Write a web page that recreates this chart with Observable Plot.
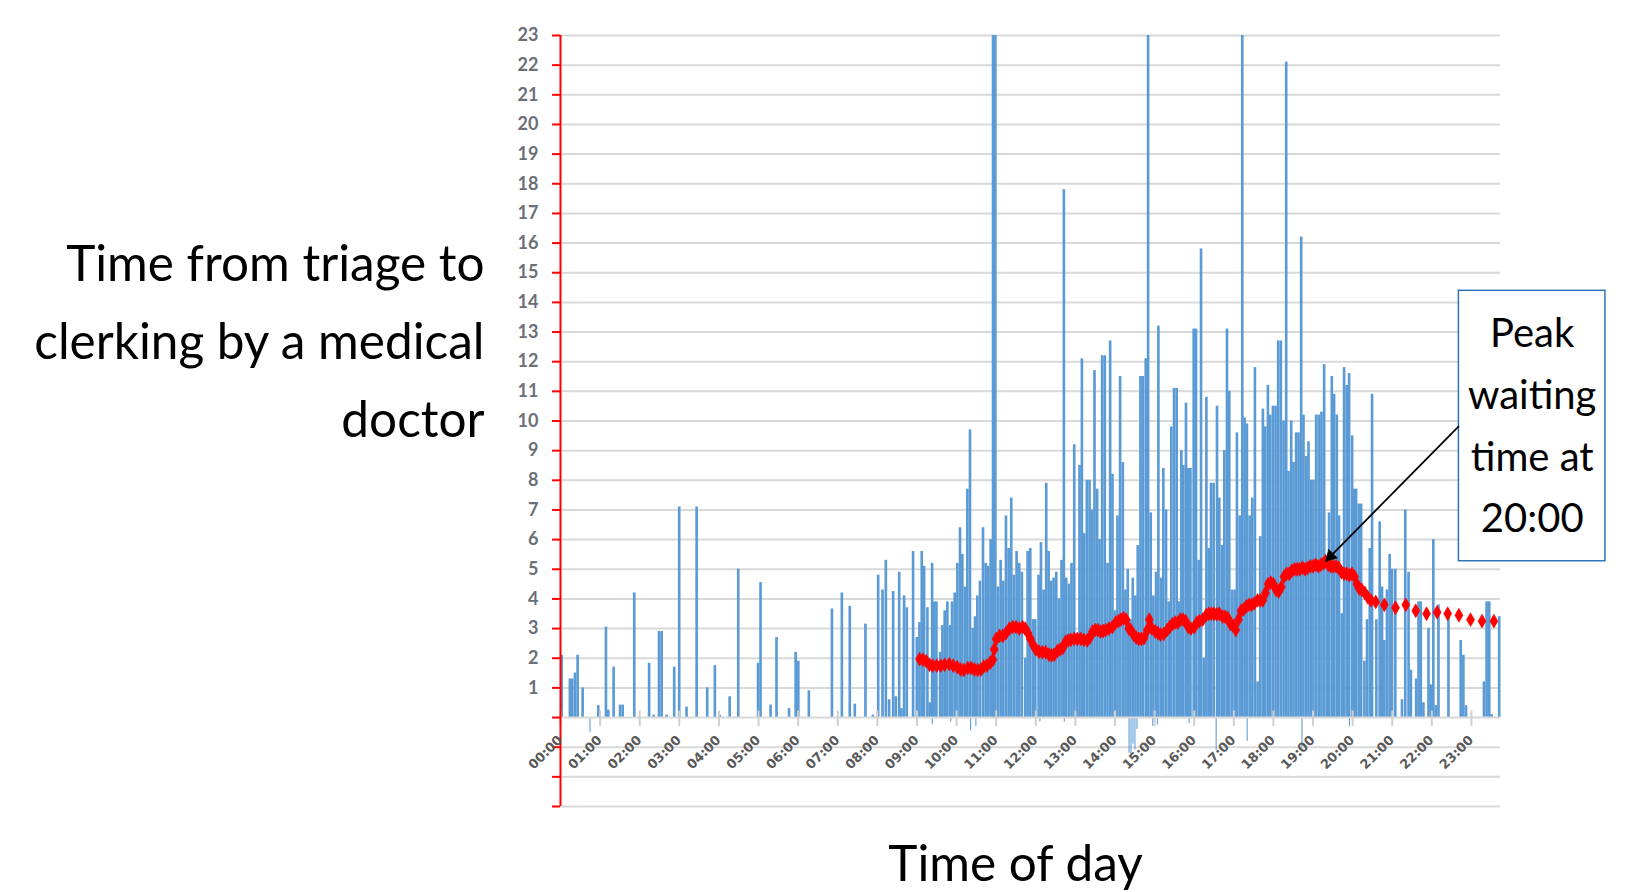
<!DOCTYPE html>
<html><head><meta charset="utf-8">
<script src="https://cdn.jsdelivr.net/npm/d3@7"></script>
<script src="https://cdn.jsdelivr.net/npm/@observablehq/plot@0.6"></script>
<style>
html,body{margin:0;padding:0;background:#fff;}
#chart svg{display:block;}
</style></head><body><div id="chart"></div>
<script>
// x positions are minutes after midnight
const hourTicks = [0,60,120,180,240,300,360,420,480,540,600,660,720,780,840,900,960,1020,1080,1140,1200,1260,1320,1380];
const hourLabels = ["00:00","01:00","02:00","03:00","04:00","05:00","06:00","07:00","08:00","09:00","10:00","11:00","12:00","13:00","14:00","15:00","16:00","17:00","18:00","19:00","20:00","21:00","22:00","23:00"];
const yTickLabels = [1,2,3,4,5,6,7,8,9,10,11,12,13,14,15,16,17,18,19,20,21,22,23];
const yTicks = [-3,-2,-1,0,1,2,3,4,5,6,7,8,9,10,11,12,13,14,15,16,17,18,19,20,21,22,23];
const gridLevels = [-3,-2,-1,1,2,3,4,5,6,7,8,9,10,11,12,13,14,15,16,17,18,19,20,21,22,23];

const barTimes = [2.5,15,18.5,22.7,26.7,34.3,58,69.6,73.2,81.2,91,95,112.5,135,142,150,154,161.5,173,180.6,191.7,207,223,234.6,242,257,270,300,303.8,319,328,347,357,361,377,412,427,439,446.6,462.7,474,
482,488.6,493.6,498.6,504.7,508.7,513.8,517.3,521.3,525.4,528.9,534.9,540.5,544.5,548,551.6,556.6,560.1,563.7,567,570.2,575.8,579.3,582.8,586.8,590.9,593.9,597.9,602,606,609.5,613.6,617.1,621.1,625.2,628.7,632.2,636.2,640.8,644.8,648.8,652.4,656,659.5,663.5,667.5,671.5,675.6,679.6,683.6,687.6,691.7,695.7,699.7,
704.9,708.4,712.4,716.5,720,725,728.6,732.6,736.6,740.2,743.7,747.7,751.8,755.8,759.8,763.3,766.9,770.9,774.9,779,783,787,790.6,794.1,798.1,802.2,805.7,809.7,813.7,817.3,821.3,825.3,829.4,833.4,836.9,841,844.5,848.5,852.6,856.6,860.1,864.1,867.7,871.7,875.2,879.3,882.8,887.3,890.9,894.9,898.9,903,906.5,910.5,914,918.1,922.1,926.1,930.2,934.2,937.2,941.3,944.3,948.3,951.8,
955,960,963.5,967.6,971.1,975.1,979.2,982.7,986.2,990.2,995.3,998.8,1002.8,1006.4,1010.4,1013.9,1018,1022,1025.5,1029.6,1033.6,1037.1,1040.6,1044.7,1048.7,1052.7,1056.8,1060.8,1064.8,1068.4,1072.4,1075.9,1080,1084,1088,1092,1096.1,1100.1,1103.6,1107.7,1111.2,1115.2,1118.8,1122.8,1126.3,1130.4,1133.9,1137.9,1141.4,1145.5,1149.5,1153.5,1157.6,1161.6,1165.1,1169.2,1172.7,1176.7,1180.2,1184.3,1187.8,1191.8,1195.4,
1200,1203,1206,1210,1213.6,1218.6,1222.6,1226.7,1230.2,1232.7,1236.7,1241.7,1245.3,1248.8,1252.8,1256.8,1260.4,1265.4,1275.5,1280.5,1285.5,1289,1297,1300.6,1304,1308,1315.7,1319,1323,1326.8,1330.8,1345.9,1364.5,1368.5,1372.5,1399.7,1403.7,1407.7,1411.3,1422.8];
const barValues = [2.1,1.3,1.3,1.5,2.1,1.0,0.4,3.05,0.25,1.7,0.42,0.42,4.2,1.83,0.08,2.9,2.9,0.08,1.7,7.1,0.35,7.1,1.0,1.75,0.08,0.7,5.0,1.83,4.55,0.42,2.7,0.3,2.2,1.9,0.9,3.66,4.2,3.75,0.45,3.15,0.08,
4.8,4.3,5.3,0.6,4.25,0.7,4.9,0.3,4.1,3.7,0,5.6,2.7,3.2,5.6,5.1,3.7,0.5,5.2,3.9,3.9,2.2,3.1,3.6,3.9,3.1,3.9,4.2,5.2,6.4,5.5,4.4,7.7,9.7,3.0,3.4,4.1,4.6,6.4,5.2,5.1,6.0,23,23,4.4,5.3,4.6,6.8,5.7,7.4,4.8,5.6,5.2,4.9,
2.0,5.6,5.7,3.3,3.3,4.8,5.9,4.3,7.9,5.6,4.6,4.7,4.9,4.0,5.3,17.8,4.7,4.5,5.2,9.2,2.7,8.5,12.1,6.2,8.0,8.0,7.0,11.7,7.7,6.0,12.2,12.2,5.2,12.7,8.2,3.6,6.8,11.5,8.6,4.3,5.0,3.3,4.7,4.1,5.8,11.5,11.5,12.1,23,6.9,4.1,4.9,13.2,4.7,8.4,7.0,3.9,9.8,11.1,11.1,3.9,9.0,8.5,10.6,8.4,
8.4,13.1,13.1,5.3,15.8,2.0,10.8,5.7,7.9,7.9,10.5,7.4,5.8,9.0,13.1,11.0,4.3,4.3,9.6,6.8,23,10.1,9.9,6.8,7.4,11.8,1.2,6.1,10.4,9.8,11.2,10.2,10.5,10.5,12.7,12.7,10.0,22.1,8.3,10.0,8.6,9.6,9.6,16.2,10.2,8.8,9.3,8.0,8.0,10.2,10.2,10.3,11.9,5.3,6.9,11.5,10.9,10.2,6.8,3.5,11.8,11.2,11.6,
9.5,7.7,7.7,7.2,7.2,1.9,3.3,5.7,10.9,0,3.3,6.6,4.4,2.6,4.3,5.5,5.0,5.0,0.6,7.0,4.9,1.6,1.3,3.9,3.9,0.5,3.0,1.1,6.0,0.4,3.8,3.4,2.6,2.1,0.4,1.2,3.9,3.9,0.1,3.4];

const negTimes = [45.4,564,592,622,630,727,764,862,865,868,871,874,898,905,953,994,1041,1124,1196];
const negValues = [-0.5,-0.23,-0.15,-0.45,-0.3,-0.15,-0.15,-1.2,-1.3,-0.9,-1.1,-0.4,-0.3,-0.25,-0.2,-1.1,-0.8,-1.0,-0.3];

const avgTimes = [544,549,554,559,564,570,576,582,589,595,601,606,611,617,622,627,632,637,641,646,651,655,657,660,665,670,675,680,685,690,695,700,704,708,712,716,720,725,730,735,740,744,748,753,757,761,765,769,773,778,783,788,793,798,802,806,810,814,818,822,826,831,836,841,845,849,853,857,861,864,868,872,876,880,884,889,892,896,901,905,909,914,919,923,927,931,935,939,943,947,951,955,960,964,968,973,978,982,986,990,994,998,1003,1007,1011,1015,1019,1023,1027,1031,1035,1039,1043,1047,1051,1056,1060,1064,1068,1072,1076,1080,1084,1088,1092,1096,1100,1104,1108,1112,1116,1120,1124,1128,1132,1136,1140,1144,1148,1152,1156,1159,1163,1167,1171,1175,1179,1183,1187,1191,1195,1199,1203,1206.5,1210,1214,1218.6,1223,1227.7,1235,1248,1265,1280.5,1295.6,1312,1328,1344,1361,1378.6,1396,1414];
const avgValues = [1.97,1.95,1.9,1.78,1.75,1.75,1.75,1.78,1.8,1.75,1.7,1.62,1.6,1.67,1.67,1.62,1.6,1.62,1.72,1.75,1.85,1.95,2.3,2.65,2.75,2.75,2.85,3.0,3.05,3.05,3.0,3.05,3.0,2.85,2.65,2.45,2.3,2.22,2.2,2.2,2.12,2.1,2.12,2.25,2.3,2.35,2.55,2.6,2.62,2.65,2.65,2.65,2.62,2.6,2.7,2.9,2.95,2.95,2.9,2.92,2.95,3.0,3.05,3.2,3.25,3.3,3.35,3.3,3.0,2.95,2.8,2.7,2.65,2.65,2.68,2.95,3.3,3.0,2.9,2.85,2.8,2.82,2.95,3.05,3.15,3.2,3.2,3.3,3.3,3.25,3.05,3.0,3.05,3.2,3.25,3.3,3.45,3.5,3.5,3.5,3.48,3.5,3.4,3.4,3.35,3.15,3.1,2.95,3.3,3.6,3.65,3.75,3.8,3.8,3.85,3.95,3.95,3.95,4.2,4.5,4.55,4.5,4.3,4.25,4.4,4.75,4.85,4.85,4.95,5.0,5.0,5.0,5.05,5.0,5.05,5.1,5.1,5.15,5.1,5.15,5.2,5.27,5.15,5.1,5.1,5.1,5.05,4.9,4.85,4.85,4.8,4.85,4.75,4.5,4.35,4.3,4.2,4.05,3.95,3.9,3.8,3.7,3.8,3.6,3.5,3.55,3.5,3.45,3.3,3.25,3.25];

const yTitle = "Time from triage to\nclerking by a medical\ndoctor";
const xTitle = "Time of day";
const noteText = "Peak\nwaiting\ntime at\n20:00";
const notePeak = [1159, 5.27];             // arrow tip: peak of the average
const noteBox = [1361, 1583, 5.27, 14.39]; // annotation box extent in data units

const bars = barTimes.map((t, i) => ({t, v: barValues[i]}));
const negs = negTimes.map((t, i) => ({t, v: negValues[i]}));
const avg = avgTimes.map((t, i) => ({t, v: avgValues[i]}));
const box = [{x1: noteBox[0], x2: noteBox[1], y1: noteBox[2], y2: noteBox[3]}];
const arrowData = [{x1: noteBox[0], y1: (noteBox[2] + noteBox[3]) / 2, x2: notePeak[0], y2: notePeak[1]}];

const chart = Plot.plot({
  width: 1626, height: 892,
  marginLeft: 560, marginRight: 126, marginTop: 35, marginBottom: 86,
  x: {domain: [0, 1424], axis: null},
  y: {domain: [-3, 23], axis: null},
  style: {fontFamily: "Lato, 'Open Sans', sans-serif", background: "white"},
  marks: [
    Plot.ruleY(gridLevels, {y: d => d, stroke: "#d9d9d9", strokeWidth: 2}),
    Plot.rectY(bars, {x1: d => d.t - 2, x2: d => d.t + 2, y1: 0, y2: "v", fill: "#5b9bd5"}),
    Plot.rectY(negs, {x1: d => d.t - 0.8, x2: d => d.t + 0.8, y1: 0, y2: "v", fill: "#5b9bd5"}),
    Plot.ruleY([0], {y: d => d, stroke: "#d9d9d9", strokeWidth: 2}),
    Plot.ruleX(hourTicks, {x: d => d, y1: -0.3, y2: 0.22, stroke: "#cfcfcf", strokeWidth: 2}),
    Plot.dot(avg, {x: "t", y: "v", symbol: "diamond", r: 4.2, fill: "#ff0000", stroke: "#ff0000", strokeWidth: 0.6}),
    Plot.ruleX([0], {x: d => d, y1: -3, y2: 23, stroke: "#ff0000", strokeWidth: 2}),
    Plot.ruleY(yTicks, {y: d => d, x1: 0, x2: 0, insetLeft: -8, stroke: "#ff0000", strokeWidth: 2}),
    Plot.text(yTickLabels, {x: 0, y: d => d, text: d => String(d), textAnchor: "end", dx: -22, fontSize: 18, fontWeight: "bold", fill: "#6a6f78"}),
    Plot.text(hourTicks, {x: d => d, y: 0, text: (d, i) => hourLabels[i], rotate: -45, dx: -15, dy: 35, fontSize: 13, fontWeight: "bold", fontFamily: "'DejaVu Sans', sans-serif", fill: "#595959"}),
    Plot.rect(box, {x1: "x1", x2: "x2", y1: "y1", y2: "y2", fill: "white", stroke: "#2e75b6", strokeWidth: 1.5}),
    Plot.text(box, {x: d => (d.x1 + d.x2) / 2, y: d => (d.y1 + d.y2) / 2, dy: -6, text: () => noteText, fontSize: 40, lineHeight: 1.54, fill: "#000"}),
    Plot.link(arrowData, {x1: "x1", y1: "y1", x2: "x2", y2: "y2", stroke: "#000", strokeWidth: 1.8}),
    Plot.dot(arrowData, {x: "x2", y: "y2", symbol: "triangle", r: 4.6, rotate: 225, dx: 5, dy: -5, fill: "#000", stroke: "#000", strokeWidth: 0.5}),
    Plot.text([yTitle], {text: d => d, frameAnchor: "left", dx: -76, dy: -87, textAnchor: "end", fontSize: 49.5, lineHeight: 1.57, fill: "#000"}),
    Plot.text([xTitle], {text: d => d, frameAnchor: "bottom", dx: -15, dy: 74, fontSize: 49.5, fill: "#000"})
  ]
});
document.getElementById("chart").appendChild(chart);
</script>
</body></html>
